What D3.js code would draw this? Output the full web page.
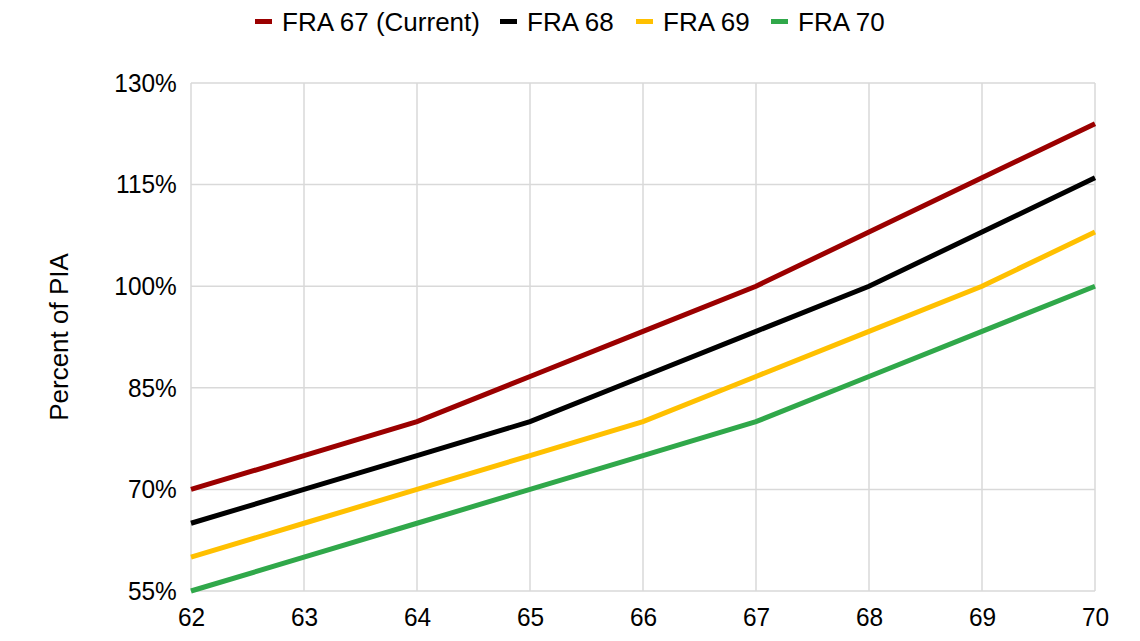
<!DOCTYPE html>
<html>
<head>
<meta charset="utf-8">
<script src="https://cdn.jsdelivr.net/npm/d3@7"></script>
<style>
  body { margin: 0; background: #fff; }
  svg { font-family: "Liberation Sans", Arial, sans-serif; }
  .grid line, .grid path { stroke: #d9d9d9; stroke-width: 1.5; }
  .axis path, .axis line { display: none; }
  .axis text { font-size: 26px; fill: #000; }
</style>
</head>
<body>
<div id="chart"></div>
<script>
var ages = [62, 63, 64, 65, 66, 67, 68, 69, 70];
var fra67 = [70, 75, 80, 86.67, 93.33, 100, 108, 116, 124];
var fra68 = [65, 70, 75, 80, 86.67, 93.33, 100, 108, 116];
var fra69 = [60, 65, 70, 75, 80, 86.67, 93.33, 100, 108];
var fra70 = [55, 60, 65, 70, 75, 80, 86.67, 93.33, 100];
var yTicks = [55, 70, 85, 100, 115, 130];
var seriesNames = ["FRA 67 (Current)", "FRA 68", "FRA 69", "FRA 70"];
var seriesColors = ["#9b0000", "#000000", "#ffc000", "#30a84a"];

var series = [fra67, fra68, fra69, fra70].map(function(v, i) {
  return { name: seriesNames[i], color: seriesColors[i], values: v };
});

var width = 1140, height = 641;
var margin = { top: 83, right: 45, bottom: 50, left: 191 };
var squeeze = "scale(0.94,1)"; // tick labels in the source are a bit condensed

var svg = d3.select("#chart").append("svg")
    .attr("width", width)
    .attr("height", height);

var x = d3.scaleLinear().domain([62, 70]).range([margin.left, width - margin.right]);
var y = d3.scaleLinear().domain([55, 130]).range([height - margin.bottom, margin.top]);

// gridlines
svg.append("g").attr("class", "grid")
  .selectAll("line").data(yTicks).enter().append("line")
    .attr("x1", x(62)).attr("x2", x(70))
    .attr("y1", function(d) { return y(d); })
    .attr("y2", function(d) { return y(d); });

svg.append("g").attr("class", "grid")
  .selectAll("line").data(ages).enter().append("line")
    .attr("y1", y(55)).attr("y2", y(130))
    .attr("x1", function(d) { return x(d); })
    .attr("x2", function(d) { return x(d); });

// axes
svg.append("g").attr("class", "axis")
    .attr("transform", "translate(" + (margin.left - 2) + ",0)")
    .call(d3.axisLeft(y).tickValues(yTicks).tickSize(0).tickPadding(13)
      .tickFormat(function(d) { return d + "%"; }))
  .selectAll("text").attr("transform", squeeze);

svg.append("g").attr("class", "axis")
    .attr("transform", "translate(0," + (height - margin.bottom) + ")")
    .call(d3.axisBottom(x).tickValues(ages).tickSize(0).tickPadding(17)
      .tickFormat(d3.format("d")))
  .selectAll("text").attr("transform", squeeze);

svg.append("text")
    .attr("transform", "translate(68," + ((margin.top + height - margin.bottom) / 2) + ") rotate(-90)")
    .attr("text-anchor", "middle")
    .style("font-size", "26px")
    .text("Percent of PIA");

// lines
var line = d3.line()
    .x(function(d, i) { return x(ages[i]); })
    .y(function(d) { return y(d); });

svg.selectAll(".series")
    .data(series)
    .enter().append("path")
    .attr("class", "series")
    .attr("fill", "none")
    .attr("stroke", function(d) { return d.color; })
    .attr("stroke-width", 5)
    .attr("d", function(d) { return line(d.values); });

// legend
var legendX = [255, 500, 636, 771];
var legend = svg.selectAll(".legend")
    .data(series)
    .enter().append("g")
    .attr("class", "legend")
    .attr("transform", function(d, i) { return "translate(" + legendX[i] + ",0)"; });

legend.append("rect")
    .attr("x", 0).attr("y", 19)
    .attr("width", 17).attr("height", 5)
    .attr("fill", function(d) { return d.color; });

legend.append("text")
    .attr("x", 27).attr("y", 31)
    .style("font-size", "26px")
    .text(function(d) { return d.name; });
</script>
</body>
</html>
